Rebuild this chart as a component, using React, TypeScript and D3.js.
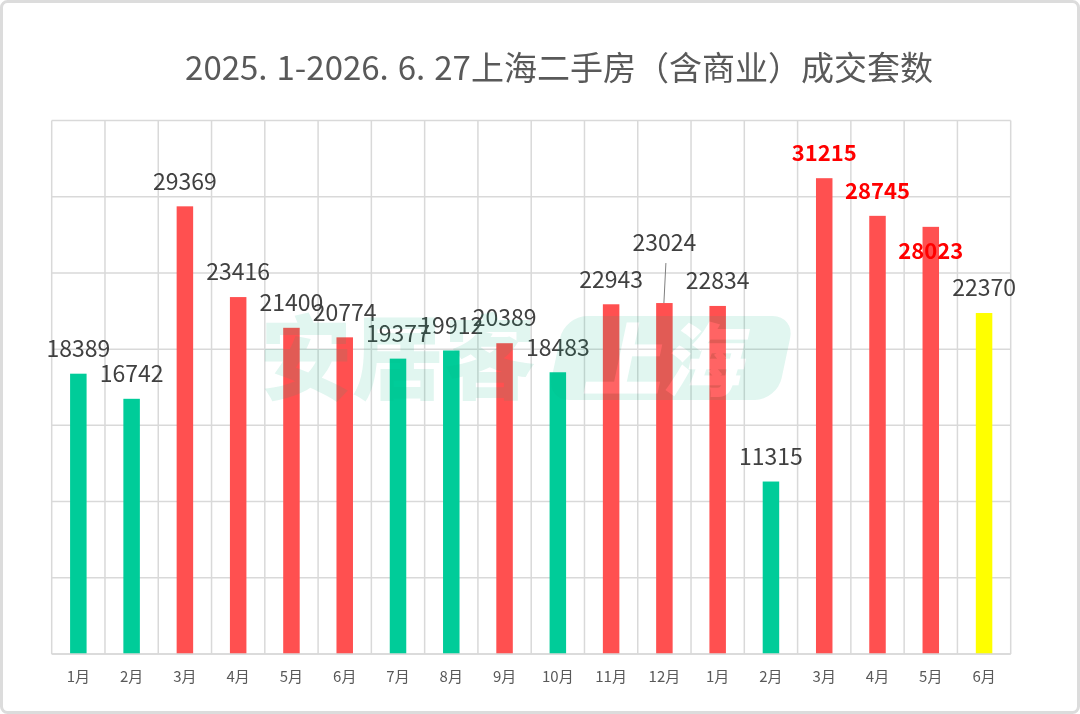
import React, { useEffect, useRef } from 'react';
import * as d3 from 'd3';

const months = ['1月', '2月', '3月', '4月', '5月', '6月', '7月', '8月', '9月', '10月', '11月', '12月',
  '1月', '2月', '3月', '4月', '5月', '6月'];
const deals = [18389, 16742, 29369, 23416, 21400, 20774, 19377, 19912, 20389, 18483, 22943, 23024,
  22834, 11315, 31215, 28745, 28023, 22370];
// 'up' = red, 'down' = green, 'partial' = yellow (current month)
const trend = ['down', 'down', 'up', 'up', 'up', 'up', 'down', 'down', 'up', 'down', 'up', 'up',
  'up', 'down', 'up', 'up', 'up', 'partial'];
const highlighted = [14, 15, 16];
const yTicks = [0, 5000, 10000, 15000, 20000, 25000, 30000, 35000];

const titleParts = ['2025.', '1-2026.', '6.', '27上海二手房（含商业）成交套数'];

const App: React.FC = () => {
  const svgRef = useRef<SVGSVGElement | null>(null);

  useEffect(() => {
    const width = 1080;
    const height = 714;
    const left = 51.7;
    const right = 1010.7;
    const top = 120.5;
    const bottom = 654;
    const font = '"Noto Sans CJK SC", "Noto Sans", sans-serif';

    const colors: Record<string, string> = { up: '#FF5050', down: '#00CC99', partial: '#FFFF00' };

    const svg = d3.select(svgRef.current)
      .attr('width', width)
      .attr('height', height);
    svg.selectAll('*').remove();

    svg.append('rect')
      .attr('x', 1.5).attr('y', 1.5)
      .attr('width', width - 3).attr('height', height - 3)
      .attr('rx', 6)
      .attr('fill', '#fff')
      .attr('stroke', '#DCDCDC')
      .attr('stroke-width', 3);

    // the source font draws wide periods, so leave a gap after each one
    const title = svg.append('text')
      .attr('x', 559)
      .attr('y', 80)
      .attr('text-anchor', 'middle')
      .style('font-family', font)
      .style('font-size', '33px')
      .style('fill', '#595959');
    title.selectAll('tspan')
      .data(titleParts)
      .enter()
      .append('tspan')
      .attr('dx', (d, i) => (i === 0 ? 0 : 9))
      .text(d => d);

    const x = d3.scaleBand<number>()
      .domain(d3.range(months.length))
      .range([left, right])
      .paddingInner(0)
      .paddingOuter(0);

    const y = d3.scaleLinear()
      .domain([0, 35000])
      .range([bottom, top]);

    const grid = svg.append('g').attr('stroke', '#D9D9D9').attr('stroke-width', 1.5);
    grid.selectAll('.h')
      .data(yTicks)
      .enter()
      .append('line')
      .attr('x1', left).attr('x2', right)
      .attr('y1', d => y(d)).attr('y2', d => y(d));
    grid.selectAll('.v')
      .data(d3.range(months.length + 1))
      .enter()
      .append('line')
      .attr('x1', d => left + d * x.step()).attr('x2', d => left + d * x.step())
      .attr('y1', top).attr('y2', bottom);

    const barW = 16.5;
    svg.append('g')
      .selectAll('rect')
      .data(deals)
      .enter()
      .append('rect')
      .attr('x', (d, i) => (x(i) as number) + x.bandwidth() / 2 - barW / 2)
      .attr('y', d => y(d))
      .attr('width', barW)
      .attr('height', d => bottom - y(d))
      .attr('fill', (d, i) => colors[trend[i]]);

    // axis line redrawn over bars
    svg.append('line')
      .attr('x1', left).attr('x2', right)
      .attr('y1', bottom).attr('y2', bottom)
      .attr('stroke', '#D9D9D9').attr('stroke-width', 1.5);

    svg.append('g')
      .selectAll('text')
      .data(months)
      .enter()
      .append('text')
      .attr('x', (d, i) => (x(i) as number) + x.bandwidth() / 2)
      .attr('y', 682)
      .attr('text-anchor', 'middle')
      .style('font-family', font)
      .style('font-size', '15px')
      .style('fill', '#595959')
      .text(d => d);

    // value labels: most sit above the bar, two were moved by hand
    const labelDy = (i: number) => {
      if (i === 11) return -60;
      if (i === 16) return 24;
      return -25;
    };

    const cx = (i: number) => (x(i) as number) + x.bandwidth() / 2;

    svg.append('line')
      .attr('x1', cx(11) + 1.5).attr('y1', y(deals[11]) - 40)
      .attr('x2', cx(11) - 0.5).attr('y2', y(deals[11]))
      .attr('stroke', '#7F7F7F')
      .attr('stroke-width', 1);

    svg.append('g')
      .selectAll('text')
      .data(deals)
      .enter()
      .append('text')
      .attr('x', (d, i) => cx(i))
      .attr('y', (d, i) => y(d) + labelDy(i))
      .attr('dy', '0.36em')
      .attr('text-anchor', 'middle')
      .style('font-family', font)
      .style('font-size', (d, i) => highlighted.includes(i) ? '22px' : '23px')
      .style('font-weight', (d, i) => highlighted.includes(i) ? 700 : 400)
      .style('fill', (d, i) => highlighted.includes(i) ? '#FF0000' : '#404040')
      .text(d => d);

    // faint watermark on top
    const wm = svg.append('g').attr('opacity', 0.12);
    wm.append('text')
      .attr('x', 398)
      .attr('y', 392)
      .attr('text-anchor', 'middle')
      .style('font-family', font)
      .style('font-size', '92px')
      .style('font-weight', 900)
      .style('fill', '#00B482')
      .text('安居客');
    wm.append('rect')
      .attr('x', 560).attr('y', 316)
      .attr('width', 230).attr('height', 84)
      .attr('rx', 22)
      .attr('transform', 'skewX(-12) translate(72,0)')
      .attr('fill', '#00B482');
    wm.append('text')
      .attr('x', 672)
      .attr('y', 390)
      .attr('text-anchor', 'middle')
      .attr('transform', 'skewX(-12) translate(72,0)')
      .style('font-family', font)
      .style('font-size', '80px')
      .style('font-weight', 900)
      .style('fill', '#fff')
      .text('上海');
  }, []);

  return <svg ref={svgRef} style={{ position: 'fixed', top: 0, left: 0 }}></svg>;
};

export default App;
